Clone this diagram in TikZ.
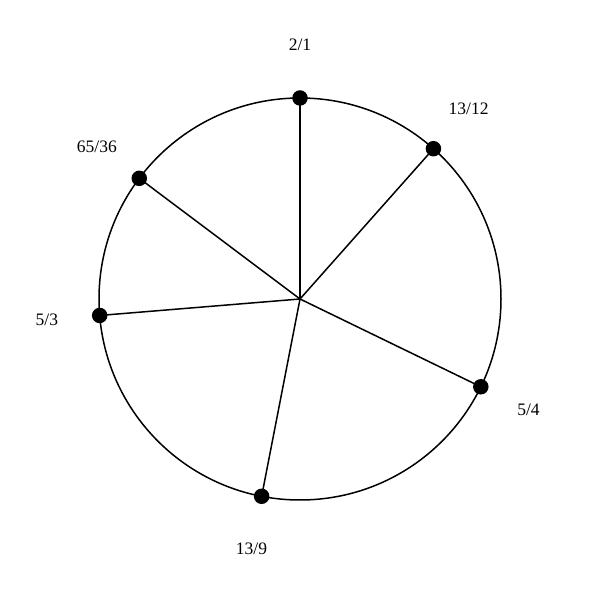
\documentclass[tikz,border=0pt]{standalone}
\usepackage{fontspec}
\setmainfont{Liberation Serif}
\usetikzlibrary{calc}
\begin{document}
\begin{tikzpicture}[x=1pt,y=1pt,
  spoke/.style={line width=1.5pt,black},
  dotmark/.style={circle,fill=black,inner sep=0pt,minimum size=15.5pt},
  lbl/.style={font=\fontsize{17.5}{20}\selectfont,inner sep=0pt}]
\useasboundingbox (0,0) rectangle (600,600);
\coordinate (c) at (300,301);
\draw[spoke] (c) circle (201);
\foreach \n/\a/\t in {a/90/2\slash 1, b/48.4/13\slash 12, c2/-25.9/5\slash 4, d/-101.0/13\slash 9, e/-175.3/5\slash 3, f/143.1/65\slash 36}{
  \node[dotmark] (\n) at ($(c)+(\a:201)$) {};
  \draw[spoke] (c) -- (\n.center);
  \node[lbl] (l\n) at ($(c)+(\a:254)$) {\t};
}
\end{tikzpicture}
\end{document}
